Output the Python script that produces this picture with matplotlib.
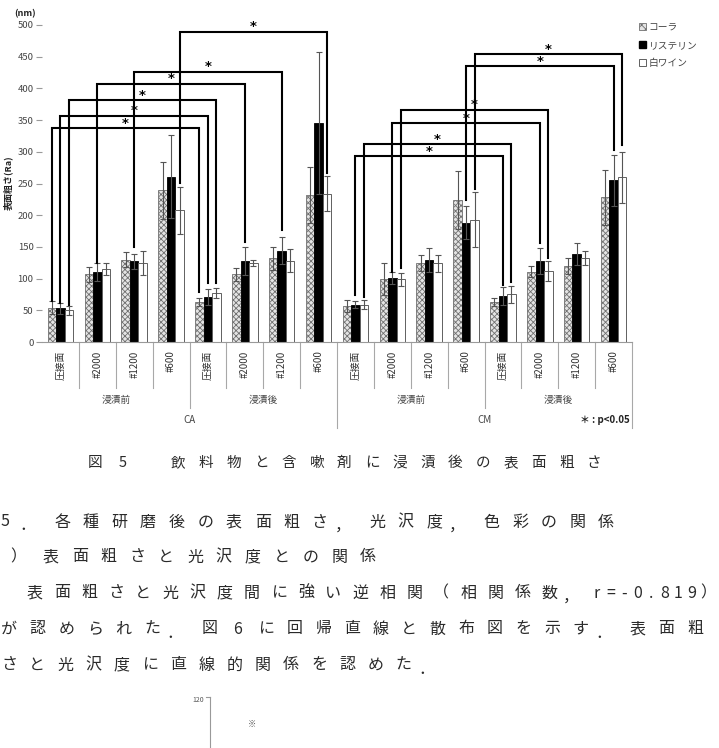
import matplotlib
matplotlib.use('Agg')
import matplotlib.pyplot as plt
import numpy as np
from matplotlib.patches import Patch
from matplotlib.lines import Line2D

plt.rcParams['font.family'] = ['Noto Sans CJK JP', 'DejaVu Sans']
plt.rcParams['hatch.linewidth'] = 0.6

# ---------------- data ----------------
categories = ['圧接面', '#2000', '#1200', '#600'] * 4
immersion_groups = ['浸漬前', '浸漬後', '浸漬前', '浸漬後']
materials = ['CA', 'CM']
series_names = ['コーラ', 'リステリン', '白ワイン']

cola = [54, 107, 130, 239, 63, 107, 132, 232, 57, 99, 125, 224, 63, 111, 120, 228]
cola_err = [10, 12, 12, 45, 7, 10, 18, 44, 9, 25, 13, 45, 6, 9, 12, 43]
listerine = [53, 110, 127, 261, 71, 128, 144, 346, 59, 101, 129, 188, 72, 128, 139, 255]
listerine_err = [9, 14, 12, 65, 12, 22, 21, 112, 6, 9, 19, 26, 14, 20, 17, 40]
wine = [50, 115, 124, 208, 77, 125, 128, 234, 59, 99, 124, 193, 75, 112, 133, 260]
wine_err = [7, 9, 19, 37, 8, 5, 18, 28, 7, 10, 14, 43, 14, 15, 11, 40]

# significance brackets: (category a, series a, category b, series b)
bracket_pairs = [(0, 0, 4, 0), (0, 1, 4, 1), (0, 2, 4, 2), (1, 1, 5, 1), (2, 1, 6, 1), (3, 2, 7, 2),
                 (8, 1, 12, 1), (8, 2, 12, 2), (9, 1, 13, 1), (9, 2, 13, 2), (11, 1, 15, 1), (11, 2, 15, 2)]
bracket_level = [337, 357, 381, 407, 426, 489, 293, 312, 345, 366, 435, 454]
bracket_drop_a = [64, 61, 58, 124, 150, 251, 74, 71, 111, 116, 224, 242]
bracket_drop_b = [79, 93, 93, 158, 177, 267, 90, 95, 156, 132, 303, 311]

yticks = list(range(0, 501, 50))

text_lines = [
    '図5　飲料物と含嗽剤に浸漬後の表面粗さ',
    '5．各種研磨後の表面粗さ，光沢度，色彩の関係',
    '）表面粗さと光沢度との関係',
    '表面粗さと光沢度間に強い逆相関（相関係数，r=-0.819）',
    'が認められた．図6に回帰直線と散布図を示す．表面粗',
    'さと光沢度に直線的関係を認めた．',
]

# ---------------- figure ----------------
W, H = 719, 748
fig = plt.figure(figsize=(W / 100, H / 100), dpi=100)
fig.patch.set_facecolor('white')

def fx(px):
    return px / W

def fy(py):
    return 1 - py / H

ax = fig.add_axes([fx(42), fy(342), fx(632) - fx(42), fy(25) - fy(342)])
ax.set_xlim(0, 16)
ax.set_ylim(0, 500)

x = np.arange(16) + 0.5
bw = 0.23
offs = [-bw, 0, bw]

ax.bar(x + offs[0], cola, bw, color='#e4e4e4', hatch='xxxxxx', edgecolor='#707070', linewidth=0.6, zorder=2)
ax.bar(x + offs[1], listerine, bw, color='black', edgecolor='black', linewidth=0.6, zorder=2)
ax.bar(x + offs[2], wine, bw, color='white', edgecolor='#606060', linewidth=0.7, zorder=2)

for off, vals, errs in zip(offs, [cola, listerine, wine], [cola_err, listerine_err, wine_err]):
    ax.errorbar(x + off, vals, yerr=errs, fmt='none', ecolor='#555555', elinewidth=0.8,
                capsize=2.3, capthick=0.8, zorder=3)

for (ca, sa, cb, sb), lev, da, db in zip(bracket_pairs, bracket_level, bracket_drop_a, bracket_drop_b):
    xa = x[ca] + offs[sa]
    xb = x[cb] + offs[sb]
    ax.plot([xa, xa, xb, xb], [da, lev, lev, db], color='black', lw=1.5, clip_on=False,
            solid_joinstyle='miter', zorder=4)
    ax.text((xa + xb) / 2, lev + 8, '*', ha='center', va='center', fontsize=9.5,
            fontweight='bold', family='DejaVu Sans', zorder=5)

for s in ['top', 'right', 'left']:
    ax.spines[s].set_visible(False)
ax.spines['bottom'].set_color('#9a9a9a')
ax.spines['bottom'].set_linewidth(0.8)

ax.set_yticks(yticks)
ax.tick_params(axis='y', length=4, color='#9a9a9a', labelsize=6.8, labelcolor='#444444', pad=2)
ax.set_xticks(x)
ax.set_xticklabels(categories, rotation=90, fontsize=7, color='#333333', va='top')
ax.tick_params(axis='x', length=0, pad=6)

trans = ax.get_xaxis_transform()
for k in range(1, 17):
    if k in (8, 16):
        yb = -0.271
    elif k % 4 == 0:
        yb = -0.208
    else:
        yb = -0.145
    ax.plot([k, k], [0, yb], transform=trans, color='#a8a8a8', lw=0.8, clip_on=False)

for i, g in enumerate(immersion_groups):
    ax.text(4 * i + 2, -0.183, g, transform=trans, ha='center', va='center', fontsize=7, color='#444444')
for i, m in enumerate(materials):
    ax.text(8 * i + 4, -0.246, m, transform=trans, ha='center', va='center', fontsize=7, color='#444444')

fig.text(fx(630), fy(420), '＊ : p<0.05', ha='right', va='center', fontsize=7, fontweight='bold', color='#222222')
fig.text(fx(8), fy(183), '表面粗さ(Ra)', rotation=90, ha='center', va='center', fontsize=6.5,
         fontweight='bold', color='#222222')
fig.text(fx(25), fy(14), '(nm)', ha='center', va='center', fontsize=6.5, fontweight='bold', color='#222222')

handles = [Patch(facecolor='#e4e4e4', hatch='xxxx', edgecolor='#707070', linewidth=0.6),
           Patch(facecolor='black', edgecolor='black'),
           Patch(facecolor='white', edgecolor='#606060', linewidth=0.7)]
fig.legend(handles, series_names, loc='upper left', bbox_to_anchor=(fx(639), fy(22)),
           frameon=False, fontsize=7, handlelength=0.7, handleheight=0.7, handletextpad=0.3,
           labelspacing=0.8, borderpad=0, borderaxespad=0, labelcolor='#444444')

# ---------------- body text ----------------
line_layout = [  # y, first center, last center, fontsize, uniform pitch
    (463, 95, 594, 10.5, True),
    (522, 5, 606, 11.5, True),
    (557, 22, 368, 11.5, True),
    (593, 35, 712, 11.5, False),
    (629, 9, 695, 11.5, True),
    (665, 9, 432, 11.5, True),
]

def is_full(c):
    return ord(c) > 0x2000

for s, (yy, x0, x1, fs, uniform) in zip(text_lines, line_layout):
    steps = [0.0]
    for a, b in zip(s[:-1], s[1:]):
        if uniform:
            steps.append(steps[-1] + 1)
        else:
            wa = 0.5 if is_full(a) else 0.25
            wb = 0.5 if is_full(b) else 0.25
            steps.append(steps[-1] + wa + wb)
    pitch = (x1 - x0) / steps[-1]
    for c, st in zip(s, steps):
        if c == '　':
            continue
        xc = x0 + st * pitch
        dy = 0
        if c in '．，':
            xc -= 6
            dy = 4
        elif c == '）':
            xc -= 4
        fig.text(fx(xc), fy(yy + dy), c, ha='center', va='center', fontsize=fs, color='#2a2a2a')

# beginning of next figure
fig.text(fx(204), fy(700), '120', ha='right', va='center', fontsize=5, color='#555555')
fig.add_artist(Line2D([fx(210), fx(210)], [fy(697), fy(748)], color='#999999', lw=0.8))
fig.add_artist(Line2D([fx(206), fx(210)], [fy(697), fy(697)], color='#999999', lw=0.8))
fig.text(fx(252), fy(724), '※', ha='center', va='center', fontsize=6, color='#555555')

fig.savefig('out.png', dpi=100)
